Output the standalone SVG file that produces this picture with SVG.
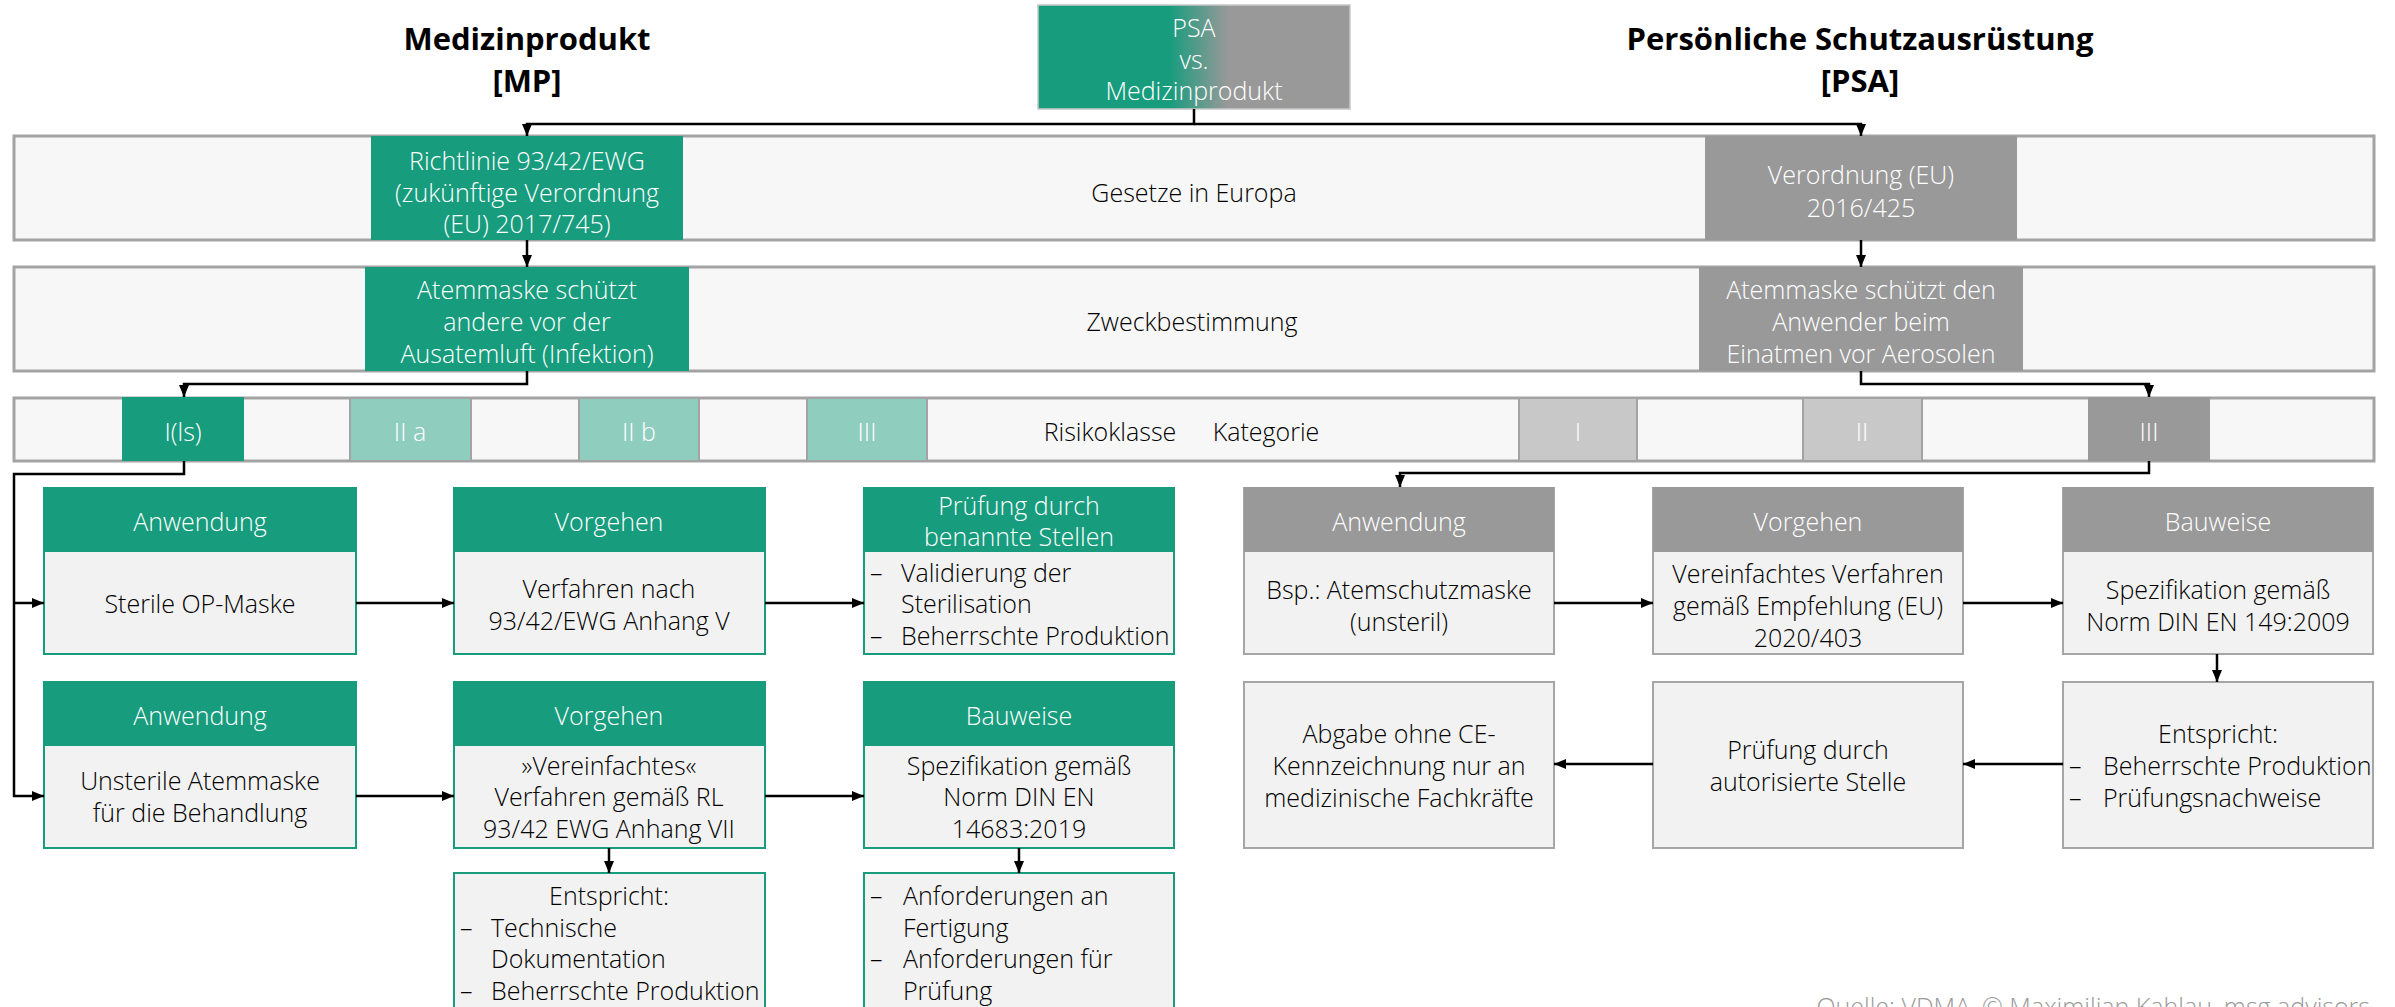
<svg xmlns="http://www.w3.org/2000/svg" width="2395" height="1007" viewBox="0 0 2395 1007">
<style>
text{font-family:"Open Sans","Noto Sans","Liberation Sans",sans-serif;font-weight:300;font-size:25px;dominant-baseline:central}
.t{fill:#000;text-anchor:middle}
.l{fill:#000;text-anchor:start}
.w{fill:#ffffff;text-anchor:middle}
.title{font-weight:700;font-size:31px;fill:#000;text-anchor:middle}
.band{fill:#f7f7f7;stroke:#a3a3a3;stroke-width:3}
.g{fill:#179c7d}
.gr{fill:#999999}
.lg{fill:#8fcdbf;stroke:#a3a3a3;stroke-width:2}
.lgr{fill:#c8c8c8;stroke:#a3a3a3;stroke-width:2}
.bodyg{fill:#f2f2f2;stroke:#179c7d;stroke-width:2}
.bodygr{fill:#f2f2f2;stroke:#a6a6a6;stroke-width:2}
.c{fill:none;stroke:#000;stroke-width:2.5;marker-end:url(#ah)}
</style>
<defs>
<marker id="ah" markerUnits="userSpaceOnUse" markerWidth="12" markerHeight="12" viewBox="0 0 12 12" refX="12" refY="6" orient="auto">
<path d="M0,1 L12,6 L0,11 Z" fill="#000"/>
</marker>
<linearGradient id="psa" x1="0" y1="0" x2="1" y2="0">
<stop offset="0.42" stop-color="#179c7d"/>
<stop offset="0.61" stop-color="#999999"/>
</linearGradient>
</defs>

<g id="titles">
<text class="title" x="527" y="38">Medizinprodukt</text>
<text class="title" x="527" y="80">[MP]</text>
<text class="title" x="1860" y="38">Persönliche Schutzausrüstung</text>
<text class="title" x="1860" y="80">[PSA]</text>
</g>

<g id="psa-vs-mp">
<rect x="1038" y="5" width="312" height="104" fill="url(#psa)" stroke="#c8c8c8" stroke-width="1.5"/>
<text class="w" x="1194" y="27">PSA</text>
<text class="w" x="1194" y="59">vs.</text>
<text class="w" x="1194" y="90">Medizinprodukt</text>
</g>

<g id="band-gesetze">
<rect class="band" x="14" y="136" width="2360" height="104"/>
<text class="t" x="1194" y="192">Gesetze in Europa</text>
</g>
<g id="richtlinie">
<rect class="g" x="371" y="136" width="312" height="104"/>
<text class="w" x="527" y="160">Richtlinie 93/42/EWG</text>
<text class="w" x="527" y="192">(zukünftige Verordnung</text>
<text class="w" x="527" y="223">(EU) 2017/745)</text>
</g>
<g id="verordnung">
<rect class="gr" x="1705" y="136" width="312" height="104"/>
<text class="w" x="1861" y="174">Verordnung (EU)</text>
<text class="w" x="1861" y="207">2016/425</text>
</g>

<g id="band-zweck">
<rect class="band" x="14" y="267" width="2360" height="104"/>
<text class="t" x="1192" y="321">Zweckbestimmung</text>
</g>
<g id="zweck-mp">
<rect class="g" x="365" y="267" width="324" height="104"/>
<text class="w" x="527" y="289">Atemmaske schützt</text>
<text class="w" x="527" y="321">andere vor der</text>
<text class="w" x="527" y="353">Ausatemluft (Infektion)</text>
</g>
<g id="zweck-psa">
<rect class="gr" x="1699" y="267" width="324" height="104"/>
<text class="w" x="1861" y="289">Atemmaske schützt den</text>
<text class="w" x="1861" y="321">Anwender beim</text>
<text class="w" x="1861" y="353">Einatmen vor Aerosolen</text>
</g>

<g id="band-risiko">
<rect class="band" x="14" y="398" width="2360" height="63"/>
<text class="t" x="1110" y="431">Risikoklasse</text>
<text class="t" x="1266" y="431">Kategorie</text>
</g>
<g id="rk-1ls"><rect class="g" x="122" y="397" width="122" height="64"/><text class="w" x="183" y="431">I(ls)</text></g>
<g id="rk-2a"><rect class="lg" x="350" y="398" width="121" height="63"/><text class="w" x="410" y="431">II a</text></g>
<g id="rk-2b"><rect class="lg" x="579" y="398" width="120" height="63"/><text class="w" x="639" y="431">II b</text></g>
<g id="rk-3"><rect class="lg" x="807" y="398" width="120" height="63"/><text class="w" x="867" y="431">III</text></g>
<g id="kat-1"><rect class="lgr" x="1519" y="398" width="118" height="63"/><text class="w" x="1578" y="431">I</text></g>
<g id="kat-2"><rect class="lgr" x="1803" y="398" width="119" height="63"/><text class="w" x="1862" y="431">II</text></g>
<g id="kat-3"><rect class="gr" x="2088" y="397" width="122" height="64"/><text class="w" x="2149" y="431">III</text></g>

<g id="mp-anw1">
<rect class="bodyg" x="44" y="488" width="312" height="166"/>
<rect class="g" x="44" y="487" width="312" height="65"/>
<text class="w" x="200" y="521">Anwendung</text>
<text class="t" x="200" y="603">Sterile OP-Maske</text>
</g>
<g id="mp-vor1">
<rect class="bodyg" x="454" y="488" width="311" height="166"/>
<rect class="g" x="454" y="487" width="311" height="65"/>
<text class="w" x="609" y="521">Vorgehen</text>
<text class="t" x="609" y="588">Verfahren nach</text>
<text class="t" x="609" y="620">93/42/EWG Anhang V</text>
</g>
<g id="mp-pruef1">
<rect class="bodyg" x="864" y="488" width="310" height="166"/>
<rect class="g" x="864" y="487" width="310" height="65"/>
<text class="w" x="1019" y="505">Prüfung durch</text>
<text class="w" x="1019" y="536">benannte Stellen</text>
<text class="l" x="870" y="572">–</text><text class="l" x="901" y="572">Validierung der</text>
<text class="l" x="901" y="603">Sterilisation</text>
<text class="l" x="870" y="635">–</text><text class="l" x="901" y="635">Beherrschte Produktion</text>
</g>

<g id="mp-anw2">
<rect class="bodyg" x="44" y="682" width="312" height="166"/>
<rect class="g" x="44" y="681" width="312" height="65"/>
<text class="w" x="200" y="715">Anwendung</text>
<text class="t" x="200" y="780">Unsterile Atemmaske</text>
<text class="t" x="200" y="812">für die Behandlung</text>
</g>
<g id="mp-vor2">
<rect class="bodyg" x="454" y="682" width="311" height="166"/>
<rect class="g" x="454" y="681" width="311" height="65"/>
<text class="w" x="609" y="715">Vorgehen</text>
<text class="t" x="609" y="765">»Vereinfachtes«</text>
<text class="t" x="609" y="796">Verfahren gemäß RL</text>
<text class="t" x="609" y="828">93/42 EWG Anhang VII</text>
</g>
<g id="mp-bau2">
<rect class="bodyg" x="864" y="682" width="310" height="166"/>
<rect class="g" x="864" y="681" width="310" height="65"/>
<text class="w" x="1019" y="715">Bauweise</text>
<text class="t" x="1019" y="765">Spezifikation gemäß</text>
<text class="t" x="1019" y="796">Norm DIN EN</text>
<text class="t" x="1019" y="828">14683:2019</text>
</g>

<g id="mp-entspricht">
<rect class="bodyg" x="454" y="873" width="311" height="150"/>
<text class="t" x="609" y="895">Entspricht:</text>
<text class="l" x="460" y="927">–</text><text class="l" x="491" y="927">Technische</text>
<text class="l" x="491" y="958">Dokumentation</text>
<text class="l" x="460" y="990">–</text><text class="l" x="491" y="990">Beherrschte Produktion</text>
</g>
<g id="mp-anford">
<rect class="bodyg" x="864" y="873" width="310" height="150"/>
<text class="l" x="870" y="895">–</text><text class="l" x="903" y="895">Anforderungen an</text>
<text class="l" x="903" y="927">Fertigung</text>
<text class="l" x="870" y="958">–</text><text class="l" x="903" y="958">Anforderungen für</text>
<text class="l" x="903" y="990">Prüfung</text>
</g>

<g id="psa-anw">
<rect class="bodygr" x="1244" y="488" width="310" height="166"/>
<rect class="gr" x="1244" y="487" width="310" height="65"/>
<text class="w" x="1399" y="521">Anwendung</text>
<text class="t" x="1399" y="589">Bsp.: Atemschutzmaske</text>
<text class="t" x="1399" y="621">(unsteril)</text>
</g>
<g id="psa-vor">
<rect class="bodygr" x="1653" y="488" width="310" height="166"/>
<rect class="gr" x="1653" y="487" width="310" height="65"/>
<text class="w" x="1808" y="521">Vorgehen</text>
<text class="t" x="1808" y="573">Vereinfachtes Verfahren</text>
<text class="t" x="1808" y="605">gemäß Empfehlung (EU)</text>
<text class="t" x="1808" y="637">2020/403</text>
</g>
<g id="psa-bau">
<rect class="bodygr" x="2063" y="488" width="310" height="166"/>
<rect class="gr" x="2063" y="487" width="310" height="65"/>
<text class="w" x="2218" y="521">Bauweise</text>
<text class="t" x="2218" y="589">Spezifikation gemäß</text>
<text class="t" x="2218" y="621">Norm DIN EN 149:2009</text>
</g>

<g id="psa-abgabe">
<rect class="bodygr" x="1244" y="682" width="310" height="166"/>
<text class="t" x="1399" y="733">Abgabe ohne CE-</text>
<text class="t" x="1399" y="765">Kennzeichnung nur an</text>
<text class="t" x="1399" y="797">medizinische Fachkräfte</text>
</g>
<g id="psa-pruef">
<rect class="bodygr" x="1653" y="682" width="310" height="166"/>
<text class="t" x="1808" y="749">Prüfung durch</text>
<text class="t" x="1808" y="781">autorisierte Stelle</text>
</g>
<g id="psa-entspricht">
<rect class="bodygr" x="2063" y="682" width="310" height="166"/>
<text class="t" x="2218" y="733">Entspricht:</text>
<text class="l" x="2069" y="765">–</text><text class="l" x="2103" y="765">Beherrschte Produktion</text>
<text class="l" x="2069" y="797">–</text><text class="l" x="2103" y="797">Prüfungsnachweise</text>
</g>

<g id="connectors">
<path class="c" d="M1194,109 V124 H527 V136"/>
<path class="c" d="M1194,124 H1861 V136"/>
<path class="c" d="M527,240 V267"/>
<path class="c" d="M1861,240 V267"/>
<path class="c" d="M527,371 V384 H184 V397"/>
<path class="c" d="M1861,371 V384 H2149 V397"/>
<path class="c" d="M184,461 V474 H14 V796 H44"/>
<path class="c" d="M14,603 H44"/>
<path class="c" d="M2149,461 V473 H1400 V487"/>
<path class="c" d="M356,603 H454"/>
<path class="c" d="M765,603 H864"/>
<path class="c" d="M356,796 H454"/>
<path class="c" d="M765,796 H864"/>
<path class="c" d="M609,848 V873"/>
<path class="c" d="M1019,848 V873"/>
<path class="c" d="M1554,603 H1653"/>
<path class="c" d="M1963,603 H2063"/>
<path class="c" d="M2217,654 V682"/>
<path class="c" d="M2063,764 H1963"/>
<path class="c" d="M1653,764 H1554"/>
</g>

<text x="2370" y="1006" style="fill:#9a9a9a;text-anchor:end">Quelle: VDMA, © Maximilian Kahlau, msg advisors</text>
</svg>
